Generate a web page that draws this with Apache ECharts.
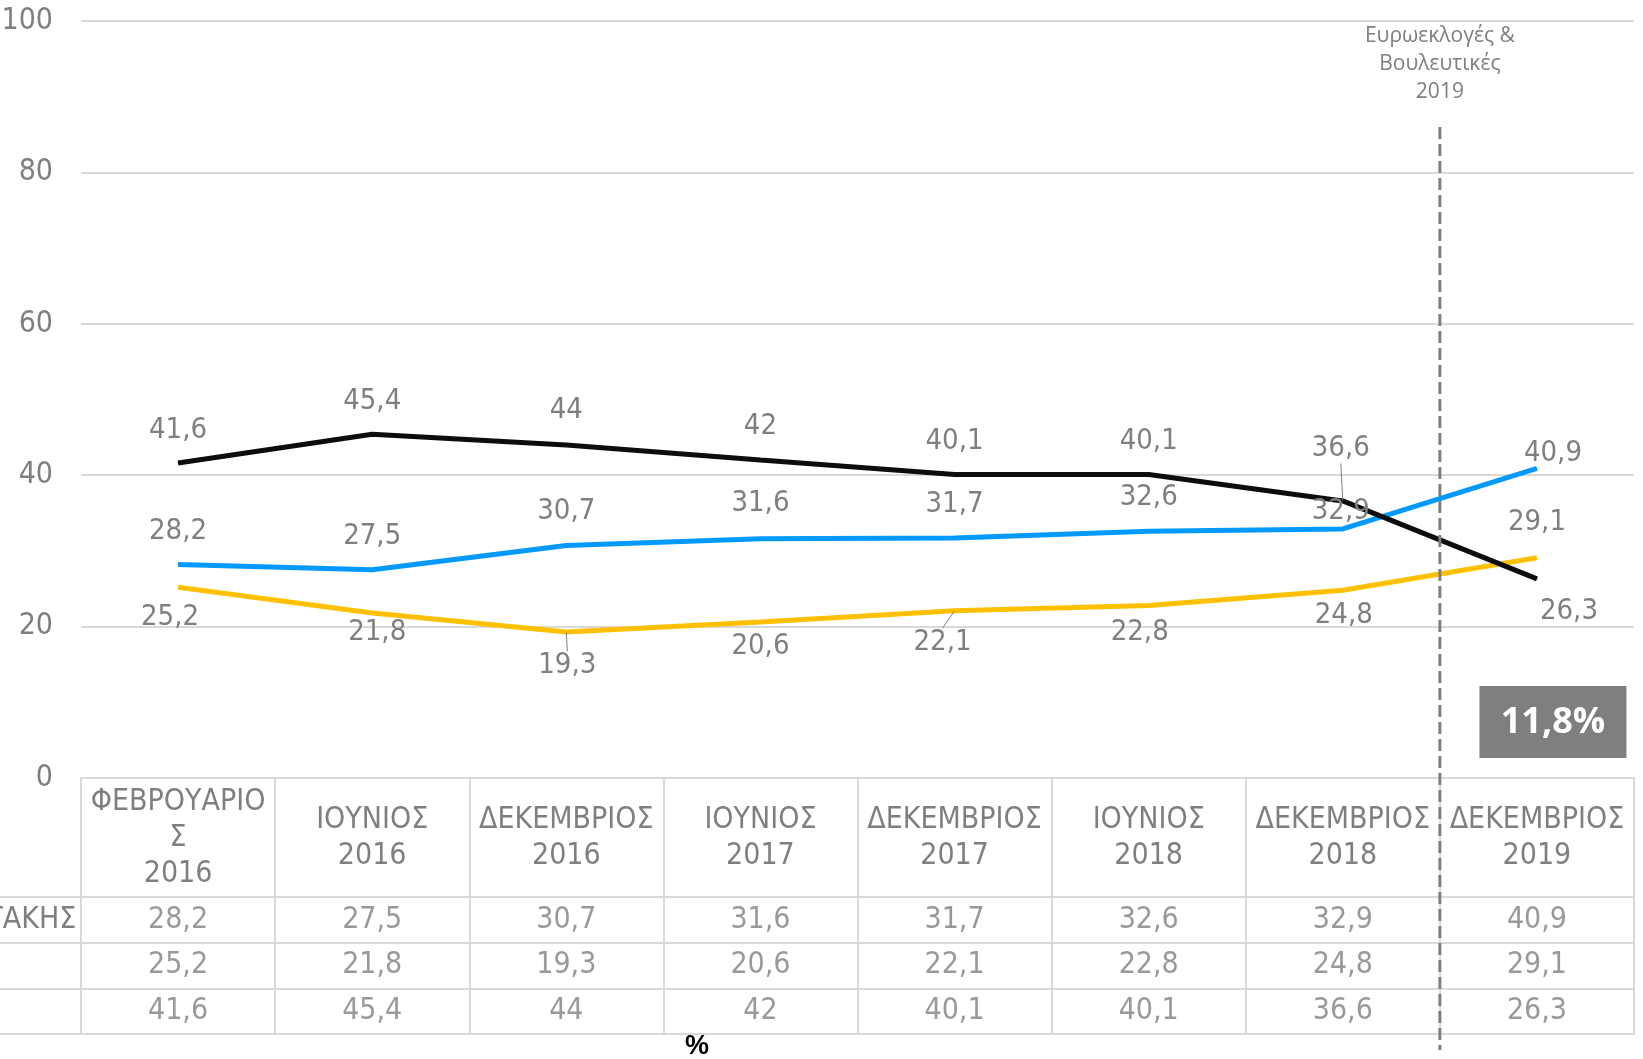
<!DOCTYPE html>
<html>
<head>
<meta charset="utf-8">
<script src="https://cdn.jsdelivr.net/npm/echarts@6/dist/echarts.min.js"></script>
<style>
html,body{margin:0;padding:0;background:#fff;}
#chart{width:1643px;height:1059px;}
</style>
</head>
<body>
<div id="chart"></div>
<script>
// ---- data ----
const categories = ['ΦΕΒΡΟΥΑΡΙΟ\nΣ\n2016', 'ΙΟΥΝΙΟΣ\n2016', 'ΔΕΚΕΜΒΡΙΟΣ\n2016', 'ΙΟΥΝΙΟΣ\n2017',
  'ΔΕΚΕΜΒΡΙΟΣ\n2017', 'ΙΟΥΝΙΟΣ\n2018', 'ΔΕΚΕΜΒΡΙΟΣ\n2018', 'ΔΕΚΕΜΒΡΙΟΣ\n2019'];
const rowNames = ['ΜΗΤΣΟΤΑΚΗΣ', 'ΤΣΙΠΡΑΣ', 'ΚΑΝΕΙΣ'];
const mitsotakis = [28.2, 27.5, 30.7, 31.6, 31.7, 32.6, 32.9, 40.9];
const tsipras = [25.2, 21.8, 19.3, 20.6, 22.1, 22.8, 24.8, 29.1];
const kaneis = [41.6, 45.4, 44, 42, 40.1, 40.1, 36.6, 26.3];
const yTicks = [0, 20, 40, 60, 80, 100];
const annotationText = 'Ευρωεκλογές &\nΒουλευτικές\n2019';

// ---- layout (label offsets, not data) ----
const blueOffsets = [[0,-33],[0,-33],[0,-34],[0,-35],[0,-34],[0,-34],[-2,-17],[16,-15]];
const yellowOffsets = [[-8,30],[5,19],[1,34],[0,24],[-12,32],[-9,27],[1,25],[0,-35]];
const blackOffsets = [[0,-33],[0,-33],[0,-34],[0,-34],[0,-33],[0,-33],[-2,-52],[32,33]];
const yellowLeader = [false,false,true,false,true,false,false,false];
const blackLeader = [false,false,false,false,false,false,true,false];

const FONT = "'Liberation Sans Narrow','Arial Narrow','DejaVu Sans Condensed',sans-serif";
const GRAY = '#7f7f7f';
const BORDER = '#d9d9d9';
const fmt = v => String(v).replace('.', ',');

function lineSeries(name, vals, color, offsets, leaders) {
  return {
    name, type: 'line', xAxisIndex: 0, yAxisIndex: 0,
    data: vals.map((v, i) => ({
      value: v,
      label: { offset: offsets[i] },
      labelLine: { show: !!(leaders && leaders[i]) }
    })),
    symbol: 'circle', symbolSize: 1, showSymbol: true,
    itemStyle: { color },
    lineStyle: { color, width: 5 },
    label: {
      show: true, position: 'inside', color: GRAY, fontSize: 29, fontFamily: FONT,
      formatter: p => fmt(p.value)
    },
    labelLine: { show: false, lineStyle: { color: GRAY, width: 1 } },
    emphasis: { disabled: true },
    z: 3
  };
}

const tableData = [];
[mitsotakis, tsipras, kaneis].forEach((arr, r) => arr.forEach((v, c) => tableData.push([c, r, v])));

const chart = echarts.init(document.getElementById('chart'));
chart.setOption({
  animation: false,
  backgroundColor: '#fff',
  grid: [
    { left: 81, right: 9, top: 21, bottom: 281, outerBoundsMode: 'none', containLabel: false },
    { left: 81, right: 9, top: 897, bottom: 25, outerBoundsMode: 'none', containLabel: false }
  ],
  xAxis: [
    {
      type: 'category', gridIndex: 0, data: categories, boundaryGap: true,
      axisLine: { show: true, lineStyle: { color: BORDER, width: 2 } },
      axisTick: { show: true, length: 119, interval: 0, lineStyle: { color: BORDER, width: 2 } },
      axisLabel: { interval: 0, margin: 60, verticalAlign: 'middle', fontSize: 30, lineHeight: 36,
        color: GRAY, fontFamily: FONT },
      splitLine: { show: false }
    },
    {
      type: 'category', gridIndex: 1, data: categories, boundaryGap: true, position: 'top',
      axisLine: { show: true, lineStyle: { color: BORDER, width: 2 } },
      axisTick: { show: false }, axisLabel: { show: false },
      splitLine: { show: true, interval: 0, lineStyle: { color: BORDER, width: 2 } }
    }
  ],
  yAxis: [
    {
      type: 'value', gridIndex: 0, min: yTicks[0], max: yTicks[yTicks.length - 1], interval: yTicks[1] - yTicks[0],
      axisLine: { show: false }, axisTick: { show: false },
      axisLabel: { margin: 28, fontSize: 30, color: GRAY, fontFamily: FONT },
      splitLine: { show: true, lineStyle: { color: BORDER, width: 2 } }
    },
    {
      type: 'category', gridIndex: 1, data: rowNames, inverse: true,
      axisLine: { show: true, lineStyle: { color: BORDER, width: 2 } },
      axisTick: { show: true, length: 81, interval: 0, lineStyle: { color: BORDER, width: 2 } },
      axisLabel: { align: 'left', margin: 193, fontSize: 30, color: GRAY, fontFamily: FONT },
      splitLine: { show: true, interval: 0, lineStyle: { color: BORDER, width: 2 } }
    }
  ],
  series: [
    lineSeries('ΜΗΤΣΟΤΑΚΗΣ', mitsotakis, '#0099ff', blueOffsets),
    lineSeries('ΤΣΙΠΡΑΣ', tsipras, '#ffc000', yellowOffsets, yellowLeader),
    lineSeries('ΚΑΝΕΙΣ', kaneis, '#0d0d0d', blackOffsets, blackLeader),
    {
      type: 'scatter', xAxisIndex: 1, yAxisIndex: 1, data: tableData,
      symbolSize: 1, itemStyle: { color: 'rgba(0,0,0,0)' },
      label: { show: true, position: 'inside', fontSize: 30, color: GRAY, fontFamily: FONT,
        formatter: p => fmt(p.value[2]) },
      emphasis: { disabled: true }, silent: true
    }
  ]
});

// annotations positioned from the axes
const c6 = chart.convertToPixel({ xAxisIndex: 0 }, categories[6]);
const c7 = chart.convertToPixel({ xAxisIndex: 0 }, categories[7]);
const xb = (c6 + c7) / 2;
const yTop = chart.convertToPixel({ yAxisIndex: 0 }, 86);
const yBox = chart.convertToPixel({ yAxisIndex: 0 }, 7.4);
const diff = fmt((mitsotakis[7] - tsipras[7]).toFixed(1));
chart.setOption({
  graphic: [
    { type: 'line', shape: { x1: xb, y1: yTop, x2: xb, y2: 1050 },
      style: { stroke: GRAY, lineWidth: 3, lineDash: [12, 5] }, z: 10 },
    { type: 'text', x: xb, y: 64, style: { text: annotationText, fill: GRAY, font: "21px 'Open Sans', sans-serif",
      lineHeight: 28, align: 'center', verticalAlign: 'middle' }, z: 10 },
    { type: 'rect', shape: { x: c7 + 16 - 73.5, y: yBox - 36, width: 147, height: 72 },
      style: { fill: '#7f7f7f' }, z: 10 },
    { type: 'text', x: c7 + 16, y: yBox + 1, style: { text: diff + '%', fill: '#fff',
      font: "bold 36px 'Open Sans', sans-serif", align: 'center', verticalAlign: 'middle' }, z: 11 },
    { type: 'text', x: 697, y: 1047, style: { text: '%', fill: '#000',
      font: "bold 27px 'Liberation Sans', Arial, sans-serif", align: 'center', verticalAlign: 'middle' }, z: 10 }
  ]
});
</script>
</body>
</html>
